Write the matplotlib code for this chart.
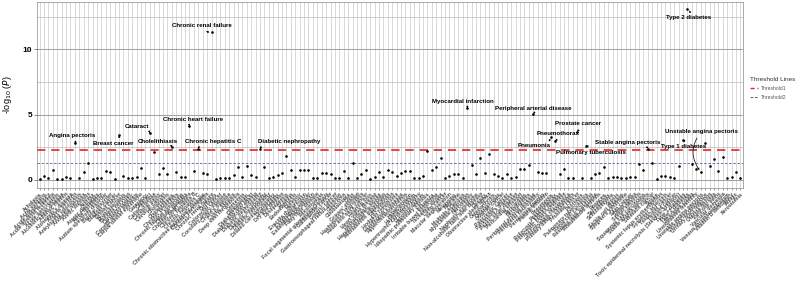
import numpy as np
import matplotlib
matplotlib.use('Agg')
import matplotlib.pyplot as plt
from matplotlib.lines import Line2D

plt.rcParams['font.family'] = ['Liberation Sans', 'DejaVu Sans']

diseases = [
    'Achalasia', 'Acne vulgaris', 'Acute kidney injury', 'Acute myeloid leukemia',
    'Acute pancreatitis', 'Alcoholic liver disease', 'Allergic rhinitis', "Alzheimer's disease",
    'Angina pectoris', 'Ankylosing spondylitis', 'Anorexia nervosa', 'Aortic stenosis',
    'Asthma', 'Atopic dermatitis', 'Atrial fibrillation', 'Autism spectrum disorder',
    'Bipolar disorder', 'Bladder cancer', 'Breast cancer', 'Bronchiectasis',
    'Bulimia nervosa', 'Cardiomyopathy', 'Carotid artery stenosis', 'Carpal tunnel syndrome',
    'Cataplexy', 'Cataract', 'Celiac disease', 'Cerebral palsy',
    'Cervical cancer', 'Cholangitis', 'Cholelithiasis', 'Chronic bronchitis',
    'Chronic fatigue syndrome', 'Chronic gastritis', 'Chronic heart failure', 'Chronic hepatitis B',
    'Chronic hepatitis C', 'Chronic obstructive pulmonary disease', 'Chronic pancreatitis', 'Chronic renal failure',
    'Cirrhosis', 'Colorectal cancer', 'Coronary artery disease', "Crohn's disease",
    'Cystic fibrosis', 'Deep vein thrombosis', 'Dementia', 'Depression',
    'Diabetic foot ulcer', 'Diabetic macular edema', 'Diabetic nephropathy', 'Diabetic neuropathy',
    'Diabetic retinopathy', 'Dilated cardiomyopathy', 'Diverticulitis', 'Dry eye disease',
    'Dyslipidemia', 'Eczema', 'Endometriosis', 'Epilepsy',
    'Erectile dysfunction', 'Esophageal cancer', 'Essential hypertension', 'Fatty liver disease',
    'Fibromyalgia', 'Focal segmental glomerulosclerosis', 'Gallbladder cancer', 'Gastric cancer',
    'Gastroesophageal reflux disease', 'Glaucoma', 'Glioblastoma', 'Gout',
    "Graves' disease", "Hashimoto's thyroiditis", 'Head and neck cancer', 'Hearing loss',
    'Heart valve disease', 'Hemorrhagic stroke', 'Hepatocellular carcinoma', 'Hidradenitis suppurativa',
    'HIV infection', 'Hodgkin lymphoma', "Huntington's disease", 'Hypercholesterolemia',
    'Hypertension', 'Hyperthyroidism', 'Hypertrophic cardiomyopathy', 'Hypothyroidism',
    'Idiopathic pulmonary fibrosis', 'Influenza', 'Irritable bowel syndrome', 'Ischemic stroke',
    'Lung cancer', 'Macular degeneration', 'Melanoma', 'Migraine',
    'Multiple sclerosis', 'Myocardial infarction', 'Narcolepsy', 'Nephrotic syndrome',
    'Non-alcoholic fatty liver disease', 'Obesity', 'Obstructive sleep apnea', 'Osteoarthritis',
    'Osteoporosis', 'Ovarian cancer', 'Pancreatic cancer', "Parkinson's disease",
    'Peptic ulcer disease', 'Pericardial effusion', 'Pericarditis', 'Periodontitis',
    'Peripheral arterial disease', 'Peripheral neuropathy', 'Pernicious anemia', 'Pleural effusion',
    'Pneumonia', 'Pneumothorax', 'Polycystic kidney disease', 'Polycystic ovary syndrome',
    'Polymyalgia rheumatica', 'Primary biliary cholangitis', 'Prostate cancer', 'Psoriasis',
    'Pulmonary tuberculosis', 'Renal cell carcinoma', 'Restless legs syndrome', 'Rheumatoid arthritis',
    'Rosacea', 'Sarcoidosis', 'Schizophrenia', 'Sepsis',
    'Sickle cell disease', "Sjogren's syndrome", 'Skin cancer', 'Sleep apnea',
    'Spinal stenosis', 'Squamous cell carcinoma', 'Stable angina pectoris', 'Stomach cancer',
    'Stroke', 'Systemic lupus erythematosus', 'Systemic sclerosis', 'Testicular cancer',
    'Thyroid cancer', 'Toxic epidermal necrolysis (Stevens-Johnson)', 'Type 1 diabetes', 'Type 2 diabetes',
    'Ulcerative colitis', 'Unexplained infertility', 'Unstable angina pectoris', 'Urinary incontinence',
    'Urinary tract infection', 'Uterine fibroids', 'Varicose veins', 'Vascular dementia',
    'Venous thromboembolism', 'Vitamin D deficiency', 'Vitiligo', 'Xerostomia',
]

neglog_p = [
    0.05, 0.33, 0.18, 0.76, 0.08, 0.08, 0.25, 0.18, 2.80, 0.13,
    0.59, 1.30, 0.08, 0.18, 0.13, 0.71, 0.63, 0.08, 3.40, 0.33,
    0.18, 0.18, 0.25, 0.89, 0.18, 3.60, 2.16, 0.46, 0.94, 0.43,
    2.50, 0.59, 0.25, 0.25, 4.10, 0.71, 2.40, 0.56, 0.46, 11.30,
    0.10, 0.13, 0.15, 0.13, 0.38, 1.00, 0.20, 1.07, 0.38, 0.25,
    2.40, 0.97, 0.13, 0.20, 0.38, 0.56, 1.83, 0.74, 0.20, 0.79,
    0.79, 0.79, 0.18, 0.13, 0.56, 0.51, 0.43, 0.13, 0.13, 0.71,
    0.13, 1.27, 0.13, 0.46, 0.76, 0.08, 0.25, 0.63, 0.20, 0.74,
    0.63, 0.33, 0.51, 0.69, 0.69, 0.13, 0.13, 0.33, 2.21, 0.76,
    0.97, 1.70, 0.18, 0.33, 0.43, 0.43, 0.18, 5.50, 1.15, 0.43,
    1.66, 0.56, 1.96, 0.43, 0.31, 0.18, 0.45, 0.13, 0.20, 0.81,
    0.81, 1.15, 5.07, 0.59, 0.56, 0.51, 3.30, 3.00, 0.46, 0.81,
    0.18, 0.13, 3.70, 0.18, 2.60, 0.13, 0.46, 0.56, 0.97, 0.13,
    0.20, 0.25, 0.13, 0.18, 0.20, 0.20, 1.20, 0.76, 2.40, 1.27,
    0.08, 0.33, 0.33, 0.20, 0.13, 1.09, 3.05, 13.05, 1.20, 0.81,
    0.63, 2.80, 1.07, 1.60, 0.69, 1.73, 0.13, 0.20, 0.59, 0.13,
]

threshold1 = 2.3
threshold2 = 1.3

labelled = ['Angina pectoris', 'Breast cancer', 'Cataract', 'Cholelithiasis',
            'Chronic heart failure', 'Chronic hepatitis C', 'Chronic renal failure',
            'Diabetic nephropathy', 'Myocardial infarction', 'Peripheral arterial disease',
            'Pneumonia', 'Pneumothorax', 'Prostate cancer', 'Pulmonary tuberculosis',
            'Stable angina pectoris', 'Type 1 diabetes', 'Type 2 diabetes',
            'Unstable angina pectoris']

# where the repelled labels sit (x in category units, y in -log10 P, arrow curvature)
label_pos = {
    'Angina pectoris': (8.4, 3.4, -0.4),
    'Breast cancer': (17.7, 2.8, 0.5),
    'Cataract': (23.2, 4.1, -0.4),
    'Cholelithiasis': (27.9, 2.95, -0.4),
    'Chronic heart failure': (35.8, 4.65, 0.4),
    'Chronic hepatitis C': (40.4, 2.95, 0.4),
    'Chronic renal failure': (37.9, 11.85, 0.4),
    'Diabetic nephropathy': (57.6, 2.95, 0.4),
    'Myocardial infarction': (97.1, 6.0, -0.4),
    'Peripheral arterial disease': (113.1, 5.5, -0.4),
    'Pneumonia': (113.3, 2.6, 0.5),
    'Pneumothorax': (118.6, 3.55, -0.4),
    'Prostate cancer': (123.1, 4.3, -0.4),
    'Pulmonary tuberculosis': (126.0, 2.1, 0.5),
    'Stable angina pectoris': (134.4, 2.85, -0.4),
    'Type 1 diabetes': (147.1, 2.55, 0.5),
    'Type 2 diabetes': (148.3, 12.45, 0.5),
    'Unstable angina pectoris': (151.2, 3.7, 0.4),
}

x = np.arange(1, len(diseases) + 1)
y = np.array(neglog_p)

fig = plt.figure(figsize=(8, 2.87), dpi=100)
ax = fig.add_axes([37 / 800, 1 - 188 / 287, 706 / 800, 186 / 287])

grid_c = '#c4c4c4'
ax.set_xlim(0.4, len(diseases) + 0.6)
ax.set_ylim(-0.62, 13.62)
for xv in x:
    ax.axvline(xv, color=grid_c, lw=0.45, zorder=0)
for yv in [0, 5, 10]:
    ax.axhline(yv, color='#a0a0a0', lw=0.7, zorder=0)
for yv in [2.5, 7.5, 12.5]:
    ax.axhline(yv, color='#b4b4b4', lw=0.45, zorder=0)

ax.axhline(threshold1, color='#e3262a', lw=1.2, ls=(0, (5, 3.5)), zorder=1)
ax.axhline(threshold2, color='#5a5f8f', lw=0.6, ls=(0, (3, 2)), zorder=1)

ax.scatter(x, y, s=3.5, color='black', zorder=3, linewidths=0)

for name in labelled:
    i = diseases.index(name)
    tx, ty, rad = label_pos[name]
    ax.annotate(name, xy=(x[i], y[i]), xytext=(tx, ty),
                fontsize=4.4, fontweight='bold', ha='center', va='center', zorder=4,
                arrowprops=dict(arrowstyle='-|>,head_length=0.2,head_width=0.1',
                                color='black', lw=0.5, shrinkA=1, shrinkB=1.5,
                                connectionstyle=f'arc3,rad={rad}'))

ax.set_xticks(x)
ax.set_xticklabels(diseases, rotation=45, ha='right', rotation_mode='anchor',
                   fontsize=3.8, color='#4a4a4a', fontweight='bold')
ax.set_yticks([0, 5, 10])
ax.set_yticklabels(['0', '5', '10'], fontsize=6, fontweight='bold')
ax.tick_params(axis='x', length=1.5, width=0.4, pad=1, color='#555555')
ax.tick_params(axis='y', length=2, width=0.5, pad=1.5, color='#555555')
for s in ax.spines.values():
    s.set_color('#888888')
    s.set_linewidth(0.5)

ax.set_ylabel(r'-log$_{10}$ ($\mathit{P}$)', fontsize=6.5, labelpad=6)

handles = [Line2D([0], [0], color='#e3262a', lw=1.0, ls=(0, (3, 2))),
           Line2D([0], [0], color='#5a5f8f', lw=0.7, ls=(0, (3, 1.5)))]
leg = fig.legend(handles, ['Threshold1', 'Threshold2'], title='Threshold Lines',
                 loc='upper left', bbox_to_anchor=(750 / 800, 1 - 77 / 287),
                 fontsize=3.6, title_fontsize=4.6, frameon=False, handlelength=1.5,
                 handletextpad=0.6, labelspacing=0.8, borderaxespad=0, borderpad=0)
leg._legend_box.align = 'left'
for t in leg.get_texts():
    t.set_color('#555555')
leg.get_title().set_color('#333333')

fig.savefig('out.png', dpi=100)
